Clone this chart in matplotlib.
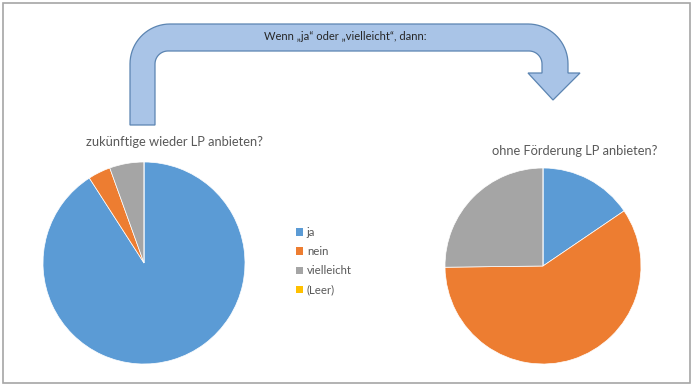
import matplotlib
matplotlib.use("Agg")
import matplotlib.pyplot as plt
from matplotlib.path import Path
from matplotlib.patches import PathPatch, Patch, Rectangle
import numpy as np

plt.rcParams['font.family'] = ['Lato', 'DejaVu Sans']

# Survey answers
categories = ["ja", "nein", "vielleicht", "(Leer)"]
colors = ["#5B9BD5", "#ED7D31", "#A5A5A5", "#FFC000"]

title_left = "zukünftige wieder LP anbieten?"
values_left = [90.9, 3.6, 5.5, 0.0]

title_right = "ohne Förderung LP anbieten?"
values_right = [15.5, 59.3, 25.2, 0.0]

arrow_text = "Wenn \u201eja\u201c oder \u201evielleicht\u201c, dann:"

W, H = 692, 385
fig = plt.figure(figsize=(W / 100, H / 100), dpi=100)

# Overlay axes in pixel coordinates (y grows downward)
ov = fig.add_axes([0, 0, 1, 1])
ov.set_xlim(0, W)
ov.set_ylim(H, 0)
ov.axis("off")

# Frame around the chart area
ov.add_patch(Rectangle((3, 3), W - 5, 380, fill=False, edgecolor="#A6A6A6", lw=1.2))


def arc(cx, cy, r, a0, a1, n=20):
    t = np.radians(np.linspace(a0, a1, n))
    return list(zip(cx + r * np.cos(t), cy - r * np.sin(t)))


# Bent arrow from the left pie to the right pie
xl_o, xl_i = 130, 155
xr_o, xr_i = 568, 542
yt_o, yt_i = 24, 51
ro, ri = 40, 13
y_head, y_tip = 73, 100
pts = [(xl_o, 125)]
pts += arc(xl_o + ro, yt_o + ro, ro, 180, 90)
pts += arc(xr_o - ro, yt_o + ro, ro, 90, 0)
pts += [(xr_o, y_head), (580, y_head), ((xr_o + xr_i) / 2 - 2, y_tip), (528, y_head), (xr_i, y_head)]
pts += arc(xr_i - ri, yt_i + ri, ri, 0, 90)
pts += arc(xl_i + ri, yt_i + ri, ri, 90, 180)
pts += [(xl_i, 125), (xl_o, 125)]
codes = [Path.MOVETO] + [Path.LINETO] * (len(pts) - 2) + [Path.CLOSEPOLY]
ov.add_patch(PathPatch(Path(pts, codes), facecolor="#A9C4E7", edgecolor="#5B84B1", lw=0.9))
ov.text(345, 36, arrow_text, ha="center", va="center", fontsize=8.0, color="#262626")

# Pie titles
ov.text(175, 142, title_left, ha="center", va="center", fontsize=9.3, color="#595959")
ov.text(575, 151, title_right, ha="center", va="center", fontsize=9.3, color="#595959")


def pie_axes(cx, cy, r):
    return fig.add_axes([(cx - r) / W, (H - cy - r) / H, 2 * r / W, 2 * r / H])


for (cx, cy, r), vals in [((144, 263, 101), values_left), ((543, 266, 98), values_right)]:
    ax = pie_axes(cx, cy, r)
    ax.pie(vals, colors=colors, startangle=90, counterclock=False,
           wedgeprops=dict(edgecolor="white", linewidth=0.5))
    ax.set_xlim(-1, 1)
    ax.set_ylim(-1, 1)
    ax.set_aspect("equal")

# Legend
handles = [Patch(facecolor=c, edgecolor="none") for c in colors]
leg = ov.legend(handles, categories, loc="upper left",
                bbox_to_anchor=(296 / W, 1 - 227 / H), bbox_transform=fig.transFigure,
                frameon=False, fontsize=8.2, handlelength=0.65, handleheight=0.65,
                handletextpad=0.3, labelspacing=0.72, borderpad=0, borderaxespad=0)
for t in leg.get_texts():
    t.set_color("#595959")

fig.savefig("out.png", dpi=100)
